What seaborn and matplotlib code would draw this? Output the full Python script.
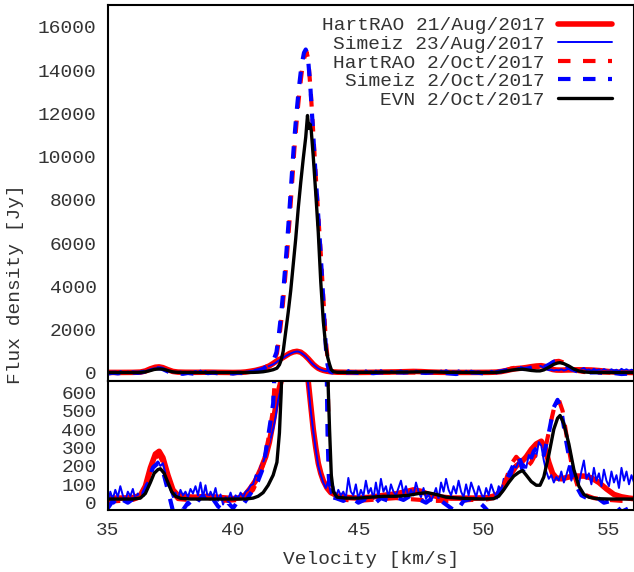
import numpy as np
import pandas as pd
import seaborn as sns
import matplotlib.pyplot as plt

# HartRAO 21/Aug/2017 (velocity km/s, flux Jy)
v_hart_aug = [35.0, 35.5, 36.0, 36.3, 36.5, 36.7, 36.9, 37.05, 37.2, 37.4,
              37.6, 37.8, 38.1, 38.5, 39.0, 39.5, 40.0, 40.3, 40.5, 40.7,
              40.9, 41.1, 41.3, 41.45, 41.6, 41.8, 41.95, 42.1, 42.25, 42.4,
              42.55, 42.7, 42.85, 43.0, 43.1, 43.2, 43.3, 43.4, 43.5, 43.6,
              43.75, 43.9, 44.2, 44.6, 45.0, 45.5, 46.0, 46.5, 46.9, 47.2,
              47.5, 47.8, 48.2, 48.7, 49.2, 49.7, 50.2, 50.5, 50.7, 50.9,
              51.1, 51.3, 51.5, 51.7, 51.9, 52.1, 52.3, 52.45, 52.6, 52.75,
              52.9, 53.1, 53.4, 53.7, 54.0, 54.3, 54.6, 54.9, 55.2, 55.5,
              55.8, 56.0]
f_hart_aug = [25, 25, 28, 40, 90, 190, 265, 280, 245, 150,
              70, 40, 32, 30, 35, 28, 22, 28, 45, 80,
              120, 180, 250, 330, 440, 600, 680, 790, 900, 970,
              1000, 960, 830, 660, 530, 400, 300, 215, 160, 120,
              80, 55, 35, 28, 25, 30, 40, 48, 60, 70,
              62, 45, 32, 25, 25, 25, 28, 40, 65, 110,
              160, 200, 220, 250, 290, 320, 335, 300, 220, 160,
              135, 130, 140, 145, 145, 135, 110, 75, 45, 32,
              25, 22]

# Simeiz 23/Aug/2017
v_sim_aug = [35.0, 35.1, 35.2, 35.3, 35.4, 35.5, 35.6, 35.7, 35.8, 35.9,
             36.0, 36.1, 36.2, 36.3, 36.4, 36.5, 36.6, 36.7, 36.8, 36.9,
             37.0, 37.1, 37.2, 37.3, 37.4, 37.5, 37.6, 37.7, 37.8, 37.9,
             38.0, 38.1, 38.2, 38.3, 38.4, 38.5, 38.6, 38.7, 38.8, 38.9,
             39.0, 39.1, 39.2, 39.3, 39.4, 39.5, 39.6, 39.7, 39.8, 39.9,
             40.0, 40.1, 40.2, 40.3, 40.4, 40.5, 40.6, 40.7, 40.8, 40.9,
             41.0, 41.1, 41.2, 41.3, 41.4, 41.5, 41.6, 41.7, 41.8, 41.9,
             42.0, 42.1, 42.2, 42.3, 42.4, 42.5, 42.6, 42.7, 42.8, 42.9,
             43.0, 43.1, 43.2, 43.3, 43.4, 43.5, 43.6, 43.7, 43.8, 43.9,
             44.0, 44.1, 44.2, 44.3, 44.4, 44.5, 44.6, 44.7, 44.8, 44.9,
             45.0, 45.1, 45.2, 45.3, 45.4, 45.5, 45.6, 45.7, 45.8, 45.9,
             46.0, 46.1, 46.2, 46.3, 46.4, 46.5, 46.6, 46.7, 46.8, 46.9,
             47.0, 47.1, 47.2, 47.3, 47.4, 47.5, 47.6, 47.7, 47.8, 47.9,
             48.0, 48.1, 48.2, 48.3, 48.4, 48.5, 48.6, 48.7, 48.8, 48.9,
             49.0, 49.1, 49.2, 49.3, 49.4, 49.5, 49.6, 49.7, 49.8, 49.9,
             50.0, 50.1, 50.2, 50.3, 50.4, 50.5, 50.6, 50.7, 50.8, 50.9,
             51.0, 51.1, 51.2, 51.3, 51.4, 51.5, 51.6, 51.7, 51.8, 51.9,
             52.0, 52.1, 52.2, 52.3, 52.4, 52.5, 52.6, 52.7, 52.8, 52.9,
             53.0, 53.1, 53.2, 53.3, 53.4, 53.5, 53.6, 53.7, 53.8, 53.9,
             54.0, 54.1, 54.2, 54.3, 54.4, 54.5, 54.6, 54.7, 54.8, 54.9,
             55.0, 55.1, 55.2, 55.3, 55.4, 55.5, 55.6, 55.7, 55.8, 55.9,
             56.0]
f_sim_aug = [-10, 60, 20, 70, 30, 90, 40, 10, 60, 35,
             75, 20, 50, 30, 60, 80, 120, 170, 200, 210,
             225, 200, 215, 160, 110, 70, 30, 55, 20, 70,
             40, 60, 30, 75, 50, 90, 40, 110, 30, 95,
             20, 60, 30, 80, 10, 45, -10, 30, 15, 55,
             10, 40, 25, 55, 30, 60, 70, 95, 100, 150,
             140, 200, 220, 260, 300, 350, 400, 470, 560, 620,
             690, 780, 840, 900, 950, 985, 990, 940, 860, 760,
             640, 500, 390, 290, 200, 150, 110, 80, 120, 50,
             90, 30, 70, 40, 60, 25, 135, 60, 40, 100,
             20, 70, 35, 120, 50, 80, 20, 110, 30, 130,
             60, 90, 30, 100, 60, 40, 80, 120, 50, 90,
             30, 70, 40, 110, 60, 30, 80, 20, 50, 10,
             40, 80, 20, 110, 60, 130, 70, 40, 90, 50,
             120, 60, 30, 100, 40, 110, 70, 30, 90, 50,
             20, 80, 40, 100, 60, 30, 90, 60, 130, 100,
             170, 140, 200, 190, 230, 180, 210, 190, 260, 230,
             280, 250, 330, 310, 230, 170, 130, 150, 110, 140,
             120, 170, 110, 150, 200, 120, 180, 140, 100, 170,
             230, 130, 160, 100, 190, 120, 160, 90, 180, 120,
             90, 170, 110, 150, 80, 190, 120, 170, 100, 150,
             110]

# HartRAO 2/Oct/2017
v_hart_oct = [35.0, 35.5, 36.0, 36.3, 36.5, 36.7, 36.9, 37.05, 37.2, 37.4,
              37.6, 37.8, 38.2, 38.6, 38.9, 39.3, 39.8, 40.2, 40.5, 40.8,
              41.0, 41.2, 41.4, 41.6, 41.75, 41.85, 41.95, 42.05, 42.15, 42.25,
              42.35, 42.45, 42.55, 42.65, 42.75, 42.85, 42.93, 43.0, 43.1, 43.2,
              43.3, 43.4, 43.5, 43.6, 43.7, 43.77, 43.83, 43.9, 44.0, 44.2,
              44.5, 45.0, 45.5, 46.0, 46.5, 47.0, 47.5, 48.0, 48.5, 49.0,
              49.5, 50.0, 50.4, 50.7, 50.9, 51.1, 51.3, 51.5, 51.7, 51.9,
              52.1, 52.3, 52.5, 52.7, 52.85, 53.0, 53.15, 53.35, 53.55, 53.75,
              54.0, 54.4, 55.0, 55.5, 56.0]
f_hart_oct = [5, 10, 15, 30, 80, 170, 245, 260, 220, 120,
              50, 20, 15, 25, 30, 15, 10, 15, 30, 70,
              130, 210, 340, 510, 900, 1700, 2700, 4000, 5400, 7000,
              8700, 10400, 11800, 13000, 14000, 14600, 14850, 14500, 13000, 11100,
              9100, 7300, 5500, 3500, 1500, 700, 280, 110, 45, 25,
              15, 10, 15, 20, 25, 20, 15, 10, 10, 10,
              15, 15, 25, 60, 130, 210, 250, 220, 190, 220,
              270, 290, 320, 450, 540, 560, 500, 330, 180, 90,
              45, 25, 15, 10, 10]

# Simeiz 2/Oct/2017
v_sim_oct = [35.0, 35.2, 35.4, 35.6, 35.8, 36.0, 36.2, 36.4, 36.6, 36.8,
             37.0, 37.15, 37.3, 37.45, 37.6, 37.8, 38.0, 38.2, 38.4, 38.6,
             38.8, 39.0, 39.2, 39.4, 39.6, 39.8, 40.0, 40.2, 40.4, 40.6,
             40.8, 41.0, 41.2, 41.4, 41.6, 41.73, 41.83, 41.93, 42.03, 42.13,
             42.23, 42.33, 42.43, 42.53, 42.63, 42.73, 42.83, 42.9, 42.98, 43.08,
             43.18, 43.28, 43.38, 43.48, 43.58, 43.66, 43.72, 43.77, 43.82, 43.88,
             43.95, 44.1, 44.4, 44.7, 45.0, 45.3, 45.6, 45.9, 46.2, 46.5,
             46.8, 47.1, 47.4, 47.7, 48.0, 48.3, 48.6, 48.9, 49.2, 49.5,
             49.8, 50.0, 50.2, 50.4, 50.6, 50.8, 51.0, 51.2, 51.4, 51.6,
             51.8, 52.0, 52.2, 52.4, 52.6, 52.8, 52.95, 53.1, 53.3, 53.5,
             53.7, 53.9, 54.2, 54.5, 54.8, 55.1, 55.3, 55.5, 55.8, 56.0]
f_sim_oct = [-30, 10, -20, 15, 0, 20, 5, 40, 110, 190,
             215, 200, 120, 40, -45, -20, -40, 0, -30, 10,
             40, -10, 20, -20, -40, 0, -30, 10, -10, 30,
             70, 120, 190, 360, 540, 950, 1800, 2850, 4150, 5600,
             7200, 8900, 10600, 12000, 13200, 14200, 14800, 14950, 14700, 13300,
             11400, 9400, 7600, 5800, 3800, 2000, 900, 380, 140, 60,
             30, 25, 10, 30, 0, 20, -10, 25, 10, 30,
             15, 40, 20, 0, 30, 10, -20, -50, 10, 20,
             5, -20, -50, 0, 60, 100, 150, 210, 250, 180,
             210, 280, 310, 260, 380, 520, 560, 500, 330, 180,
             90, 40, 20, 30, 0, 10, -20, -50, -30, -50]

# EVN 2/Oct/2017
v_evn = [35.0, 35.5, 36.0, 36.3, 36.5, 36.7, 36.85, 37.0, 37.1, 37.25,
         37.4, 37.55, 37.7, 37.9, 38.3, 39.0, 39.8, 40.5, 40.8, 41.0,
         41.2, 41.4, 41.6, 41.75, 41.85, 41.92, 42.0, 42.1, 42.2, 42.3,
         42.4, 42.5, 42.6, 42.7, 42.8, 42.9, 42.97, 43.02, 43.07, 43.12,
         43.2, 43.3, 43.4, 43.5, 43.6, 43.7, 43.78, 43.85, 43.92, 44.0,
         44.15, 44.5, 45.0, 45.5, 46.0, 46.5, 47.0, 47.4, 47.75, 48.1,
         48.5, 49.0, 49.5, 50.0, 50.4, 50.6, 50.8, 51.0, 51.2, 51.4,
         51.55, 51.7, 51.9, 52.1, 52.25, 52.4, 52.6, 52.8, 52.95, 53.05,
         53.2, 53.4, 53.6, 53.8, 54.0, 54.2, 54.5, 55.0, 55.5, 56.0]
f_evn = [20, 20, 20, 25, 50, 110, 160, 180, 185, 160,
         110, 60, 35, 24, 20, 20, 20, 20, 25, 35,
         55, 95, 150, 220, 380, 600, 1000, 1900, 2800, 3800,
         5000, 6200, 7600, 8800, 9900, 10900, 11900, 11300, 11500, 11200,
         10000, 8300, 6500, 4200, 2400, 1200, 700, 400, 150, 60,
         30, 25, 25, 30, 35, 35, 40, 50, 55, 45,
         30, 25, 22, 20, 22, 35, 70, 110, 145, 165,
         175, 150, 115, 95, 95, 140, 260, 400, 460, 475,
         430, 320, 180, 90, 45, 30, 22, 20, 20, 20]

series = [
    ('HartRAO 21/Aug/2017', v_hart_aug, f_hart_aug, 'red', 4.0, None),
    ('Simeiz 23/Aug/2017', v_sim_aug, f_sim_aug, 'blue', 1.4, None),
    ('HartRAO 2/Oct/2017', v_hart_oct, f_hart_oct, 'red', 3.0, (3, 3)),
    ('Simeiz 2/Oct/2017', v_sim_oct, f_sim_oct, 'blue', 3.0, (3, 3)),
    ('EVN 2/Oct/2017', v_evn, f_evn, 'black', 2.4, None),
]

sns.set_style('white')
plt.rcParams['font.family'] = ['Liberation Mono', 'DejaVu Sans Mono']
plt.rcParams['font.size'] = 14
plt.rcParams['text.color'] = '#333333'
plt.rcParams['xtick.labelcolor'] = '#333333'
plt.rcParams['ytick.labelcolor'] = '#333333'
plt.rcParams['xtick.major.pad'] = 8.5
plt.rcParams['ytick.major.pad'] = 8

fig = plt.figure(figsize=(6.34, 5.72), dpi=100)
ax_top = fig.add_axes([0.170, 0.334, 0.830, 0.657])
ax_bot = fig.add_axes([0.170, 0.108, 0.830, 0.226])

for ax in (ax_top, ax_bot):
    for label, v, f, color, lw, dash in series:
        sns.lineplot(x=v, y=f, ax=ax, color=color, linewidth=lw,
                     estimator=None, label=label if ax is ax_top else None,
                     legend=False)
        if dash is not None:
            ax.lines[-1].set_dashes(dash)
    ax.set_xlim(35, 56)
    ax.set_xticks([35, 40, 45, 50, 55])
    ax.set_xticks(range(35, 57), minor=True)
    ax.tick_params(direction='in', which='major', length=6.5, width=1.2,
                   top=False, right=False, colors='black', labelsize=14)
    ax.tick_params(direction='in', which='minor', length=3.5, width=1.2,
                   top=False, right=False, colors='black')
    ax.tick_params(axis='both', labelcolor='#333333')
    ax.tick_params(axis='y', pad=8)
    ax.tick_params(axis='x', pad=8.5)
    for sp in ax.spines.values():
        sp.set_color('black')
        sp.set_linewidth(1.5)
    ax.set_xlabel('')
    ax.set_ylabel('')

ax_top.set_ylim(-370, 17000)
ax_top.set_yticks(range(0, 16001, 2000))
ax_top.tick_params(axis='x', labelbottom=False)

ax_bot.set_ylim(-41, 663)
ax_bot.set_yticks(range(0, 601, 100))

ax_top.legend(loc='upper right', bbox_to_anchor=(0.958, 0.969), frameon=False,
              markerfirst=False, handlelength=2.78, handletextpad=0.67,
              labelspacing=0.05, borderpad=0, borderaxespad=0, fontsize=14)

fig.text(0.0245, 1 - 284 / 572, 'Flux density [Jy]', rotation=90,
         ha='center', va='center', fontsize=14)
fig.text(371 / 634, 1 - 560 / 572, 'Velocity [km/s]', ha='center',
         va='center', fontsize=14)

fig.savefig('out.png', dpi=100)
